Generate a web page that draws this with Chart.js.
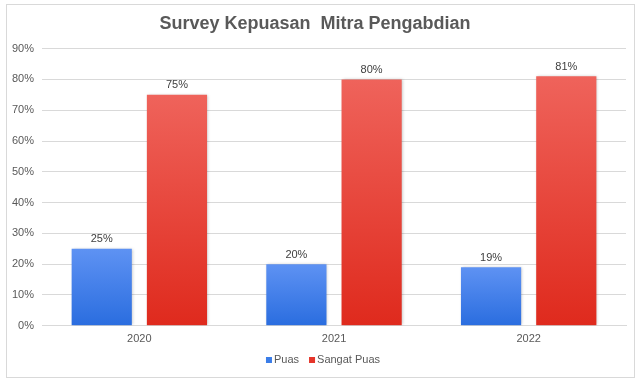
<!DOCTYPE html>
<html><head><meta charset="utf-8">
<script src="https://cdn.jsdelivr.net/npm/chart.js@4"></script>
<style>html,body{margin:0;padding:0;background:#fff}#wrap{width:642px;height:382px;position:relative}</style>
</head><body><div id="wrap"><canvas id="c" width="642" height="382"></canvas></div>
<script>
const categories = ['2020', '2021', '2022'];
const puas = [25, 20, 19];
const sangatPuas = [75, 80, 81];
const seriesNames = ['Puas', 'Sangat Puas'];
const legendColors = ['#3b7de8', '#e5352a'];
const titleText = 'Survey Kepuasan  Mitra Pengabdian';
const FONT = '"Liberation Sans", Arial, sans-serif';

function barGrad(top, bottom) {
  return function(c) {
    const chart = c.chart;
    const ys = chart.scales && chart.scales.y;
    if (!chart.chartArea || !ys || c.raw === undefined) return bottom;
    const y0 = ys.getPixelForValue(c.raw);
    const y1 = ys.getPixelForValue(0);
    if (!isFinite(y0) || !isFinite(y1) || y0 === y1) return bottom;
    const g = chart.ctx.createLinearGradient(0, y0, 0, y1);
    g.addColorStop(0, top); g.addColorStop(1, bottom);
    return g;
  };
}

const frame = {
  id: 'frame',
  beforeDraw(chart) {
    const ctx = chart.ctx;
    ctx.save();
    ctx.fillStyle = '#fff';
    ctx.fillRect(0, 0, chart.width, chart.height);
    ctx.strokeStyle = '#d9d9d9';
    ctx.lineWidth = 1;
    ctx.strokeRect(6.5, 4.5, 628, 373);
    ctx.restore();
  }
};
const shadow = {
  id: 'shadow',
  beforeDatasetsDraw(chart) {
    const ctx = chart.ctx;
    ctx.save();
    ctx.shadowColor = 'rgba(0,0,0,0.25)';
    ctx.shadowBlur = 3;
    ctx.shadowOffsetX = 1;
    ctx.shadowOffsetY = 0;
  },
  afterDatasetsDraw(chart) { chart.ctx.restore(); }
};
const labels = {
  id: 'labels',
  afterDatasetsDraw(chart) {
    const ctx = chart.ctx;
    ctx.save();
    ctx.font = '11px ' + FONT;
    ctx.fillStyle = '#404040';
    ctx.textAlign = 'center';
    ctx.textBaseline = 'bottom';
    chart.data.datasets.forEach((ds, i) => {
      chart.getDatasetMeta(i).data.forEach((bar, j) => {
        ctx.fillText(ds.data[j] + '%', bar.x, bar.y - 4);
      });
    });
    ctx.restore();
  }
};
const customLegend = {
  id: 'customLegend',
  afterDraw(chart) {
    const ctx = chart.ctx;
    ctx.save();
    ctx.font = '11px ' + FONT;
    ctx.textBaseline = 'middle';
    ctx.textAlign = 'left';
    const box = 6, gapText = 2, gapItem = 10;
    const names = chart.data.datasets.map(d => d.label);
    const widths = names.map(n => box + gapText + ctx.measureText(n).width);
    const total = widths.reduce((a, b) => a + b, 0) + gapItem * (names.length - 1);
    let x = 323 - total / 2;
    const cy = 360;
    names.forEach((n, i) => {
      ctx.fillStyle = legendColors[i];
      ctx.fillRect(x, cy - 3, box, box);
      ctx.fillStyle = '#595959';
      ctx.fillText(n, x + box + gapText, cy);
      x += widths[i] + gapItem;
    });
    ctx.restore();
  }
};

new Chart(document.getElementById('c'), {
  type: 'bar',
  data: {
    labels: categories,
    datasets: [
      { label: seriesNames[0], data: puas, backgroundColor: barGrad('#5e92f3', '#2a6ddf'),
        categoryPercentage: 0.773, barPercentage: 0.8 },
      { label: seriesNames[1], data: sangatPuas, backgroundColor: barGrad('#ef635b', '#df2a1d'),
        categoryPercentage: 0.773, barPercentage: 0.8 }
    ]
  },
  options: {
    responsive: false,
    animation: false,
    layout: { padding: { left: 4, right: 16, top: 4, bottom: 29 } },
    plugins: {
      title: { display: true, text: titleText, color: '#595959',
        font: { family: FONT, size: 18, weight: 'bold' },
        padding: { top: 9, bottom: 14 } },
      legend: { display: false },
      tooltip: { enabled: false }
    },
    scales: {
      x: { grid: { display: false, drawTicks: false },
        border: { display: true, color: '#d9d9d9' },
        ticks: { color: '#595959', padding: 7, font: { family: FONT, size: 11 } } },
      y: { min: 0, max: 90,
        grid: { color: '#d9d9d9', drawTicks: false },
        border: { display: false },
        ticks: { stepSize: 10, color: '#595959', padding: 8, callback: v => v + '%',
          font: { family: FONT, size: 11 } } }
    }
  },
  plugins: [frame, shadow, labels, customLegend]
});
</script></body></html>
